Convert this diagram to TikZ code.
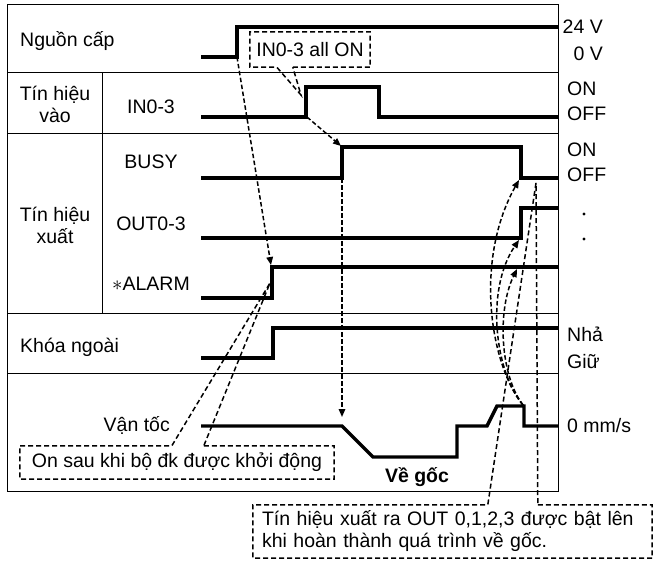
\documentclass[tikz,border=0pt]{standalone}
\usepackage{fontspec}
\setmainfont{Liberation Sans}
\usepackage{tikz}
\usetikzlibrary{positioning, arrows.meta, calc}

\tikzset{
    wave/.style={line width=3.4pt, line join=miter},
    rule/.style={line width=0.9pt},
    cue/.style={line width=1.5pt, dash pattern=on 4.5pt off 2.5pt,
                -{Triangle[length=8pt,width=6.5pt]}},
    callout/.style={line width=1.5pt, dash pattern=on 5pt off 3pt},
    lbl/.style={inner sep=0pt},
}

\begin{document}
\begin{tikzpicture}[x=1pt, y=-1pt, font=\fontsize{19.5}{22}\selectfont]
    \useasboundingbox (0,0) rectangle (654,563);

    \draw[rule] (7,4) rectangle (558,491);
    \foreach \y in {72,133,313,373} \draw[rule] (7,\y) -- (558,\y);
    \draw[rule] (102,72) -- (102,313);

    \node[lbl, anchor=base west] (power) at (20,46.7) {Nguồn cấp};
    \node[lbl, align=center] (inGroup) at (55,104) {Tín hiệu\\vào};
    \node[lbl, anchor=base] (inName) at (151,113.3) {IN0-3};
    \node[lbl, align=center] (outGroup) at (55,225) {Tín hiệu\\xuất};
    \node[lbl, anchor=base] (busyName) at (151,168.3) {BUSY};
    \node[lbl, anchor=base] (outName) at (151,230) {OUT0-3};
    \node[lbl, anchor=base] (alarmName) at (151,290) {{$\ast$}ALARM};
    \node[lbl, anchor=base west] (lock) at (20,352) {Khóa ngoài};
    \node[lbl, anchor=base east] (speed) at (170,431.5) {Vận tốc};

    \node[lbl, anchor=base east] (hiV) at (603,33.3) {24 V};
    \node[lbl, anchor=base east] (loV) at (603,60) {0 V};
    \node[lbl, anchor=base west] (inOn) at (567,95) {ON};
    \node[lbl, anchor=base west] (inOff) at (567,120) {OFF};
    \node[lbl, anchor=base west] (busyOn) at (567,156) {ON};
    \node[lbl, anchor=base west] (busyOff) at (567,181.7) {OFF};
    \fill (584,214) circle (1.6pt) (584,239) circle (1.6pt);
    \node[lbl, anchor=base west] (release) at (567,341.7) {Nhả};
    \node[lbl, anchor=base west] (hold) at (567,368.3) {Giữ};
    \node[lbl, anchor=base west] (zero) at (567,432.7) {0 mm/s};
    \node[lbl, anchor=base, font=\fontsize{19.5}{22}\selectfont\bfseries] (homing) at (417,482) {Về gốc};

    \draw[wave] (201,57) -- (237,57) -- (237,27) -- (558,27);
    \draw[wave] (201,117) -- (306,117) -- (306,87) -- (379,87) -- (379,117) -- (558,117);
    \draw[wave] (201,178) -- (342,178) -- (342,147) -- (521,147) -- (521,178) -- (558,178);
    \draw[wave] (201,238) -- (521,238) -- (521,208) -- (558,208);
    \draw[wave] (201,298) -- (272,298) -- (272,267) -- (558,267);
    \draw[wave] (201,358) -- (273,358) -- (273,328) -- (558,328);
    \draw[wave] (201,426) -- (342,426) -- (373,457) -- (457,457) -- (457,426)
        -- (487,426) -- (497,406) -- (524,406) -- (524,426) -- (558,426);

    \coordinate (pwrUp) at (237,57);
    \coordinate (alarmUp) at (271,265);
    \coordinate (inUp) at (307,117);
    \coordinate (busyUp) at (341,146);
    \coordinate (busyFoot) at (342,178);
    \coordinate (spdDrop) at (342,417);
    \coordinate (spdPeak) at (523,405);
    \coordinate (busyDown) at (519,180);
    \coordinate (outUp) at (519,240);
    \coordinate (alarmMark) at (517,269);

    \draw[cue] (pwrUp) -- (alarmUp);
    \draw[cue] (inUp) -- (busyUp);
    \draw[cue] (busyFoot) -- (spdDrop);
    \draw[cue] (spdPeak) .. controls (490,365) and (474,260) .. (busyDown);
    \draw[cue] (spdPeak) .. controls (495,372) and (485,290) .. (outUp);
    \draw[cue] (spdPeak) .. controls (500,375) and (497,310) .. (alarmMark);

    \node[lbl, minimum width=120pt, minimum height=35pt] (allOn) at (310,49.5) {IN0-3 all ON};
    \coordinate (allOnTip) at (301,95);
    \draw[callout] ($(allOn.south west)+(43,0)$) -- (allOn.south east) -- (allOn.north east)
        -- (allOn.north west) -- (allOn.south west) -- ($(allOn.south west)+(27,0)$)
        -- (allOnTip) -- cycle;

    \node[lbl, minimum width=314pt, minimum height=33pt] (startNote) at (177,462.5) {On sau khi bộ đk được khởi động};
    \coordinate (startTip) at (270,283);
    \draw[callout] ($(startNote.north west)+(184,0)$) -- (startNote.north east) -- (startNote.south east)
        -- (startNote.south west) -- (startNote.north west) -- ($(startNote.north west)+(152,0)$)
        -- (startTip) -- cycle;

    \node[lbl, inner xsep=9pt, text width=381pt, align=left, minimum height=53pt] (doneNote) at (452.5,531.5)
        {Tín hiệu xuất ra OUT 0,1,2,3 được bật lên\\khi hoàn thành quá trình về gốc.};
    \coordinate (doneTip) at (536,183);
    \draw[callout] ($(doneNote.north west)+(285,0)$) -- (doneNote.north east) -- (doneNote.south east)
        -- (doneNote.south west) -- (doneNote.north west) -- ($(doneNote.north west)+(235,0)$)
        -- (doneTip) -- cycle;
\end{tikzpicture}
\end{document}
